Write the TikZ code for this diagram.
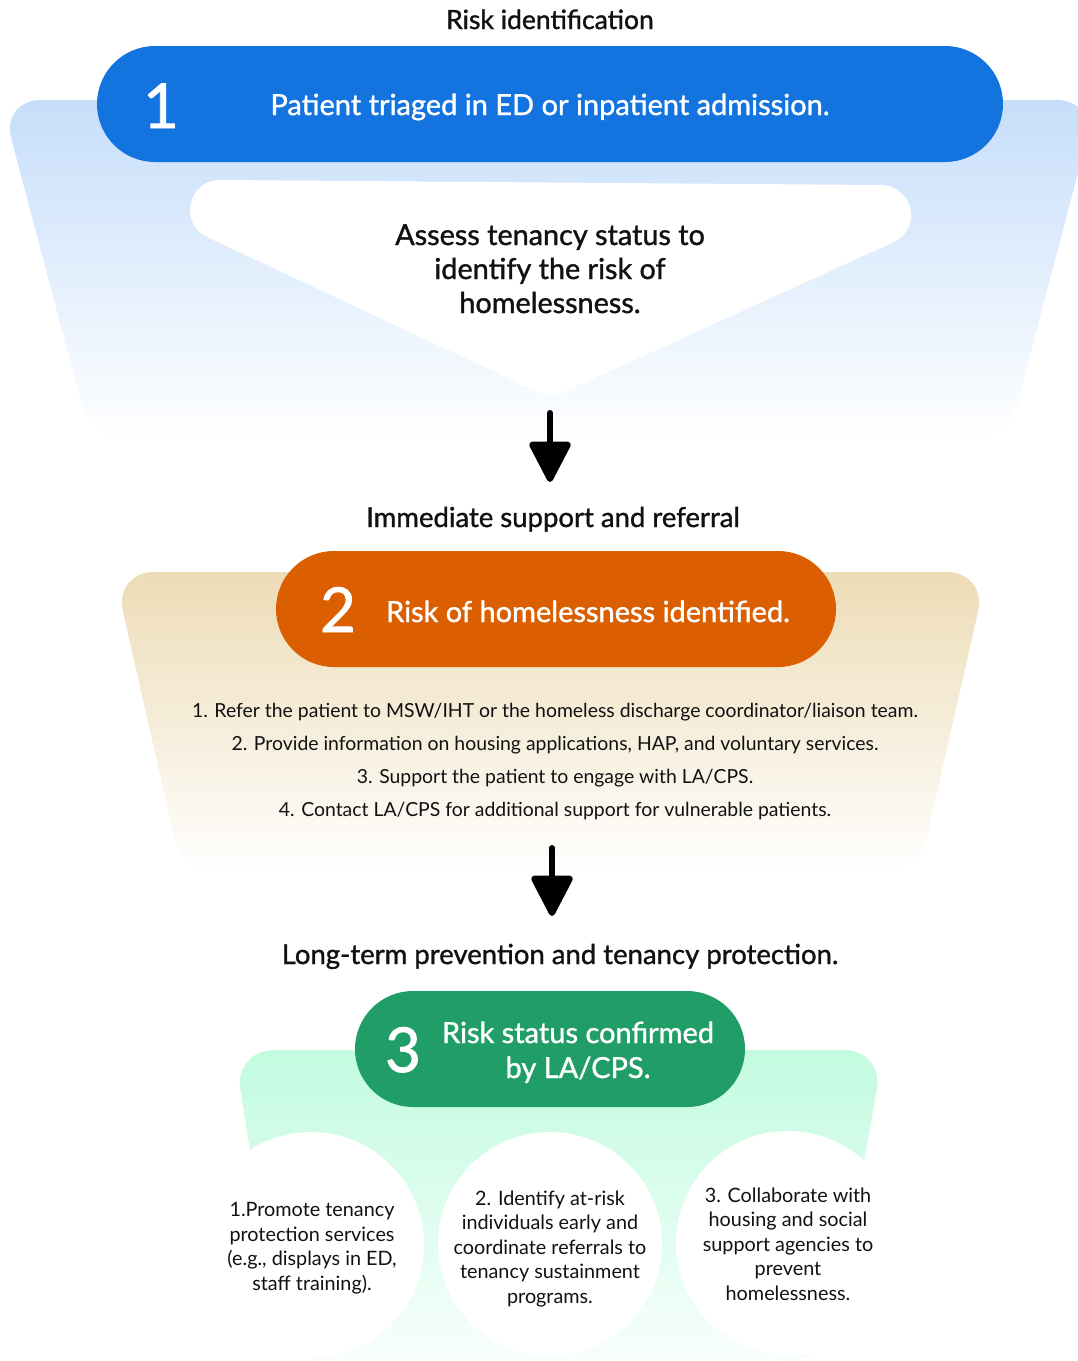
\documentclass[tikz,border=0pt]{standalone}
\usepackage{fontspec}
\setmainfont{Lato}
\newfontfamily\headfont{Lato}[FakeBold=1.2]
\usetikzlibrary{arrows.meta}

\definecolor{stepblue}{HTML}{1373DF}
\definecolor{skyband}{HTML}{C6DEFA}
\definecolor{steporange}{HTML}{DB5F00}
\definecolor{sandband}{HTML}{EDDCB6}
\definecolor{stepgreen}{HTML}{219E68}
\definecolor{mintband}{HTML}{C2FBE0}
\definecolor{inktext}{HTML}{111111}

\tikzset{
  pill/.style={rounded corners=58pt},
  heading/.style={font=\headfont\fontsize{27.5}{34}\selectfont, text=inktext, anchor=base, align=center},
  cardtext/.style={font=\headfont\fontsize{28.8}{34}\selectfont, text=inktext, anchor=base, align=center},
  pilltext/.style={font=\headfont\fontsize{29}{35}\selectfont, text=white, anchor=base, align=center},
  bignum/.style={font=\headfont\fontsize{62}{62}\selectfont, text=white, anchor=base},
  listtext/.style={font=\fontsize{19.4}{33}\selectfont, text=inktext, anchor=base},
  circtext/.style={font=\fontsize{19.8}{24.5}\selectfont, text=inktext, anchor=base, align=center},
  flowarrow/.style={line width=6pt, line cap=round, draw=black,
    -{Triangle[width=44pt, length=44pt, round]}},
}

\begin{document}
\begin{tikzpicture}[x=1pt, y=-1pt]
\useasboundingbox (0,0) rectangle (1078,1361);

% ---------- stage 1: risk identification ----------
\shade[top color=skyband, bottom color=white, rounded corners=40pt]
  (91,440) -- (1,100) -- (1097,100) -- (1008,440) -- cycle;

\fill[stepblue, pill] (97,46) rectangle (1003,162);

% white funnel card (hull of three rounded ends)
\filldraw[white, line width=60pt, line join=round]
  (220,210) -- (881,215) -- (551,365) -- cycle;

\node[heading, font=\headfont\fontsize{26.5}{34}\selectfont] (title1) at (550,29) {Risk identification};
\node[bignum] (num1) at (161,128) {1};
\node[pilltext] (step1) at (550,115) {Patient triaged in ED or inpatient admission.};
\node[cardtext] (assess) at (550,313) {Assess tenancy status to\\identify the risk of\\homelessness.};

\coordinate (a1s) at (550,413);
\coordinate (a1e) at (550,482);
\draw[flowarrow] (a1s) -- (a1e);

% ---------- stage 2: immediate support ----------
\node[heading] (title2) at (553,527) {Immediate support and referral};

\shade[top color=sandband, bottom color=white, rounded corners=40pt]
  (183,876) -- (114,572) -- (987,572) -- (918,876) -- cycle;

\fill[steporange, pill] (276,551) rectangle (836,667);
\node[bignum] (num2) at (338,632) {2};
\node[pilltext] (step2) at (588,622) {Risk of homelessness identified.};

\node[listtext] (l1) at (555,717) {1. Refer the patient to MSW/IHT or the homeless discharge coordinator/liaison team.};
\node[listtext] (l2) at (555,750) {2. Provide information on housing applications, HAP, and voluntary services.};
\node[listtext] (l3) at (555,783) {3. Support the patient to engage with LA/CPS.};
\node[listtext] (l4) at (555,816) {4. Contact LA/CPS for additional support for vulnerable patients.};

\coordinate (a2s) at (552,848);
\coordinate (a2e) at (552,916);
\draw[flowarrow] (a2s) -- (a2e);

% ---------- stage 3: long-term prevention ----------
\node[heading] (title3) at (560,964) {Long-term prevention and tenancy protection.};

\shade[top color=mintband, bottom color=mintband!12, rounded corners=40pt]
  (284,1361) -- (234,1050) -- (884,1050) -- (828,1361) -- cycle;

\fill[stepgreen, pill] (355,991) rectangle (745,1107);
\node[bignum] (num3) at (403,1072) {3};
\node[pilltext] (step3) at (578,1078) {Risk status confirmed\\by LA/CPS.};

\fill[white] (311,1245) circle (113);
\fill[white] (550,1244) circle (112);
\fill[white] (788,1243) circle (112);

% multi-line nodes sit on the baseline of their last line
\node[circtext] (c1) at (312,1290) {1.Promote tenancy\\protection services\\(e.g., displays in ED,\\staff training).};
\node[circtext] (c2) at (550,1303) {2. Identify at-risk\\individuals early and\\coordinate referrals to\\tenancy sustainment\\programs.};
\node[circtext] (c3) at (788,1300) {3. Collaborate with\\housing and social\\support agencies to\\prevent\\homelessness.};
\end{tikzpicture}
\end{document}
